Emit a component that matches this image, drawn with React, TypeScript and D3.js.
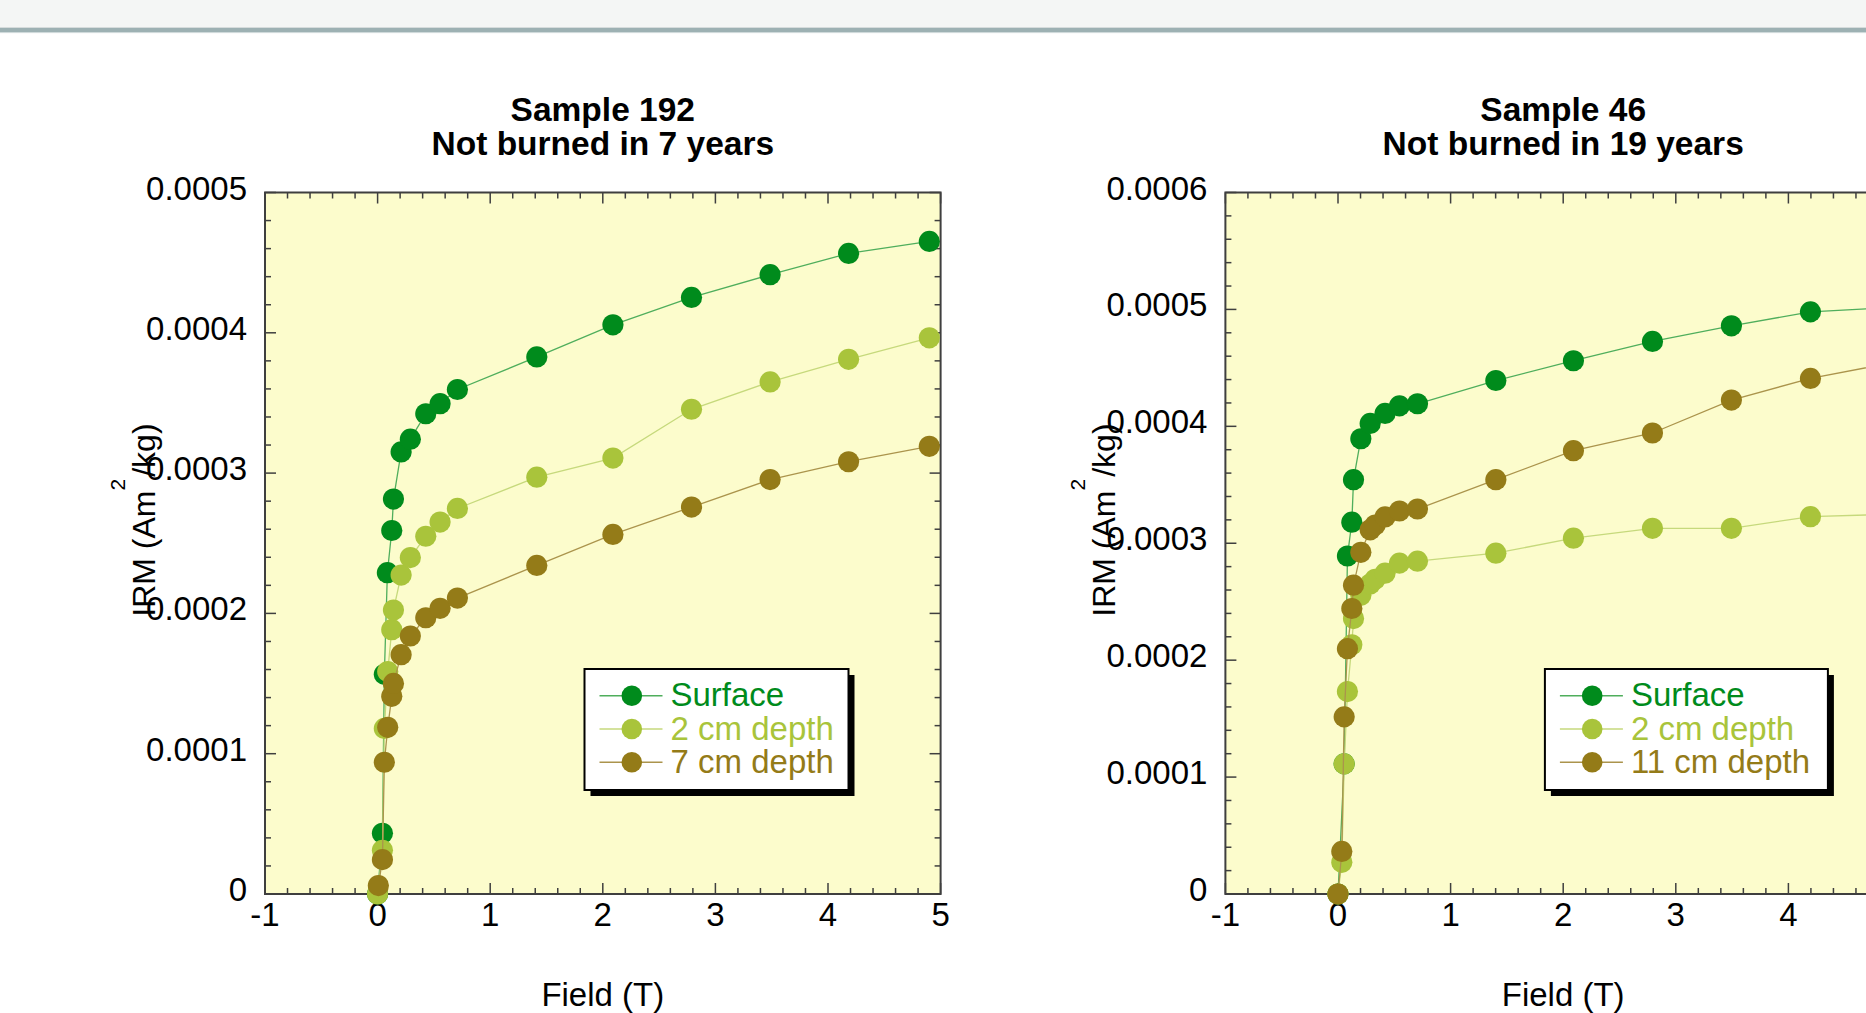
import React, { useEffect } from 'react';
import * as d3 from 'd3';

// ---------- data ----------
const xTickValues = [-1, 0, 1, 2, 3, 4, 5];
const xTickLabels = ['-1', '0', '1', '2', '3', '4', '5'];

// IRM values are in units of 1e-4 Am^2/kg
const yTickValues192 = [0, 1, 2, 3, 4, 5];
const yTickLabels192 = ['0', '0.0001', '0.0002', '0.0003', '0.0004', '0.0005'];
const yTickValues46 = [0, 1, 2, 3, 4, 5, 6];
const yTickLabels46 = ['0', '0.0001', '0.0002', '0.0003', '0.0004', '0.0005', '0.0006'];

const seriesNames192 = ['Surface', '2 cm depth', '7 cm depth'];
const seriesNames46 = ['Surface', '2 cm depth', '11 cm depth'];
const seriesColors = ['#008b1c', '#a9c43b', '#947b18'];
const lineColors = ['#4fae5c', '#c6d97c', '#ab944c'];

// Sample 192
const field192Surface = [0, 0.043, 0.06, 0.087, 0.126, 0.141, 0.209, 0.291, 0.428, 0.555, 0.709, 1.414, 2.09, 2.788, 3.486, 4.183, 4.9];
const irm192Surface = [0, 0.433, 1.566, 2.29, 2.591, 2.815, 3.151, 3.242, 3.423, 3.495, 3.596, 3.828, 4.057, 4.252, 4.414, 4.566, 4.651];
const field192Depth2 = [0, 0.043, 0.06, 0.09, 0.126, 0.141, 0.209, 0.291, 0.428, 0.555, 0.709, 1.414, 2.09, 2.788, 3.486, 4.183, 4.9];
const irm192Depth2 = [0, 0.312, 1.18, 1.586, 1.884, 2.024, 2.273, 2.398, 2.55, 2.651, 2.748, 2.971, 3.107, 3.455, 3.65, 3.811, 3.964];
const field192Depth7 = [0.007, 0.043, 0.06, 0.09, 0.126, 0.141, 0.209, 0.291, 0.428, 0.555, 0.709, 1.414, 2.09, 2.788, 3.486, 4.183, 4.9];
const irm192Depth7 = [0.06, 0.245, 0.939, 1.188, 1.409, 1.501, 1.706, 1.839, 1.969, 2.036, 2.109, 2.342, 2.563, 2.758, 2.954, 3.081, 3.191];

// Sample 46
const field46Surface = [0, 0.055, 0.084, 0.123, 0.138, 0.203, 0.286, 0.418, 0.546, 0.706, 1.402, 2.091, 2.793, 3.494, 4.196, 4.9];
const irm46Surface = [0, 1.113, 2.891, 3.18, 3.544, 3.894, 4.025, 4.11, 4.175, 4.193, 4.392, 4.561, 4.726, 4.86, 4.979, 5.015];
const field46Depth2 = [0, 0.034, 0.055, 0.084, 0.123, 0.138, 0.203, 0.286, 0.33, 0.418, 0.546, 0.706, 1.402, 2.091, 2.793, 3.494, 4.196, 4.9];
const irm46Depth2 = [0, 0.271, 1.113, 1.731, 2.132, 2.356, 2.555, 2.651, 2.692, 2.744, 2.83, 2.847, 2.915, 3.043, 3.128, 3.128, 3.227, 3.248];
const field46Depth11 = [0, 0.034, 0.055, 0.084, 0.123, 0.138, 0.203, 0.286, 0.33, 0.418, 0.546, 0.706, 1.402, 2.091, 2.793, 3.494, 4.196, 4.9];
const irm46Depth11 = [0, 0.364, 1.515, 2.098, 2.442, 2.641, 2.922, 3.115, 3.156, 3.225, 3.276, 3.293, 3.544, 3.792, 3.943, 4.225, 4.41, 4.54];

// ---------- layout ----------
const W = 1866;
const H = 1013;
const PLOT_TOP = 192.5;
const PLOT_BOTTOM = 894;
const PLOT_W = 675.6;
const FONT = "'Liberation Sans', Arial, Helvetica, sans-serif";
const FRAME = '#3f3f3f';
const BG = '#fcfccc';

type Series = { name: string; color: string; lineColor: string; pts: [number, number][] };

const zip = (a: number[], b: number[]): [number, number][] => a.map((v, i) => [v, b[i]]);

const charts = [
  {
    left: 265,
    title: ['Sample 192', 'Not burned in 7 years'],
    yMax: 5,
    yTicks: yTickValues192,
    yLabels: yTickLabels192,
    legendW: 264,
    series: [
      { name: seriesNames192[0], color: seriesColors[0], lineColor: lineColors[0], pts: zip(field192Surface, irm192Surface) },
      { name: seriesNames192[1], color: seriesColors[1], lineColor: lineColors[1], pts: zip(field192Depth2, irm192Depth2) },
      { name: seriesNames192[2], color: seriesColors[2], lineColor: lineColors[2], pts: zip(field192Depth7, irm192Depth7) },
    ] as Series[],
  },
  {
    left: 1225.4,
    title: ['Sample 46', 'Not burned in 19 years'],
    yMax: 6,
    yTicks: yTickValues46,
    yLabels: yTickLabels46,
    legendW: 283,
    series: [
      { name: seriesNames46[0], color: seriesColors[0], lineColor: lineColors[0], pts: zip(field46Surface, irm46Surface) },
      { name: seriesNames46[1], color: seriesColors[1], lineColor: lineColors[1], pts: zip(field46Depth2, irm46Depth2) },
      { name: seriesNames46[2], color: seriesColors[2], lineColor: lineColors[2], pts: zip(field46Depth11, irm46Depth11) },
    ] as Series[],
  },
];

function Chart({ cfg }: { cfg: typeof charts[number] }) {
  const x = d3.scaleLinear().domain([-1, 5]).range([cfg.left, cfg.left + PLOT_W]);
  const y = d3.scaleLinear().domain([0, cfg.yMax]).range([PLOT_BOTTOM, PLOT_TOP]);
  const line = d3.line<[number, number]>().x((d) => x(d[0])).y((d) => y(d[1]));
  const x0 = x(-1), x1 = x(5), y0 = y(0), y1 = y(cfg.yMax);
  const cx = (x0 + x1) / 2;
  const majorLen = 11, minorLen = 6;
  const minorX = d3.range(0, 31).map((i) => -1 + i * 0.2);
  const minorY = d3.range(0, cfg.yMax * 5 + 1).map((i) => i * 0.2);
  const isMajor = (v: number) => Math.abs(v - Math.round(v)) < 1e-6;

  const lx = cfg.left + 319.5;
  const ly = 669;
  const lh = 121;

  return (
    <g>
      {/* titles */}
      <text x={cx} y={121} textAnchor="middle" fontFamily={FONT} fontWeight="bold" fontSize={33.5} fill="#000">{cfg.title[0]}</text>
      <text x={cx} y={154.5} textAnchor="middle" fontFamily={FONT} fontWeight="bold" fontSize={33.5} fill="#000">{cfg.title[1]}</text>

      {/* plot background */}
      <rect x={x0} y={y1} width={x1 - x0} height={y0 - y1} fill={BG} />

      {/* ticks */}
      <g stroke={FRAME} strokeWidth={1.5}>
        {minorX.map((v, i) => {
          const len = isMajor(v) ? majorLen : minorLen;
          const px = x(v);
          return (
            <g key={'xt' + i}>
              <line x1={px} x2={px} y1={y0} y2={y0 - len} />
              <line x1={px} x2={px} y1={y1} y2={y1 + len} />
            </g>
          );
        })}
        {minorY.map((v, i) => {
          const len = isMajor(v) ? majorLen : minorLen;
          const py = y(v);
          return (
            <g key={'yt' + i}>
              <line x1={x0} x2={x0 + len} y1={py} y2={py} />
              <line x1={x1} x2={x1 - len} y1={py} y2={py} />
            </g>
          );
        })}
      </g>
      <rect x={x0} y={y1} width={x1 - x0} height={y0 - y1} fill="none" stroke={FRAME} strokeWidth={2} />

      {/* tick labels (only those inside the window) */}
      {xTickValues.map((v, i) =>
        x(v) + 12 < W ? (
          <text key={'xl' + i} x={x(v)} y={926} textAnchor="middle" fontFamily={FONT} fontSize={33} fill="#000">{xTickLabels[i]}</text>
        ) : null
      )}
      {cfg.yTicks.map((v, i) => (
        <text key={'yl' + i} x={x0 - 18} y={y(v) + 7} textAnchor="end" fontFamily={FONT} fontSize={33} fill="#000">{cfg.yLabels[i]}</text>
      ))}

      {/* axis titles */}
      <text x={cx} y={1006} textAnchor="middle" fontFamily={FONT} fontSize={33} fill="#000">Field (T)</text>
      <text transform={`translate(${x0 - 110},616.7) rotate(-90)`} fontFamily={FONT} fontSize={32} fill="#000">
        IRM (Am<tspan fontSize={21} dy={-30}>2</tspan><tspan dy={30} dx={2}>/kg)</tspan>
      </text>

      {/* data */}
      {cfg.series.map((s, si) => (
        <g key={'s' + si}>
          <path d={line(s.pts) || ''} fill="none" stroke={s.lineColor} strokeWidth={1.3} />
          {s.pts.map((p, pi) => (
            <circle key={pi} cx={x(p[0])} cy={y(p[1])} r={10.6} fill={s.color} />
          ))}
        </g>
      ))}

      {/* legend */}
      <rect x={lx + 6} y={ly + 6} width={cfg.legendW} height={lh} fill="#000" />
      <rect x={lx} y={ly} width={cfg.legendW} height={lh} fill="#fff" stroke="#000" strokeWidth={2} />
      {cfg.series.map((s, i) => {
        const ry = 695.7 + i * 33.3;
        return (
          <g key={'lg' + i}>
            <line x1={lx + 15} x2={lx + 78} y1={ry} y2={ry} stroke={s.lineColor} strokeWidth={1.5} />
            <circle cx={lx + 47.3} cy={ry} r={10.3} fill={s.color} />
            <text x={lx + 86} y={ry + 10.6} fontFamily={FONT} fontSize={33} fill={s.color}>{s.name}</text>
          </g>
        );
      })}
    </g>
  );
}

export default function App() {
  useEffect(() => {
    document.body.style.margin = '0';
    document.body.style.overflow = 'hidden';
  }, []);
  return (
    <svg width={W} height={H} viewBox={`0 0 ${W} ${H}`} style={{ position: 'absolute', left: 0, top: 0, display: 'block', background: '#fff' }}>
      <rect x={0} y={0} width={W} height={H} fill="#fff" />
      <rect x={0} y={0} width={W} height={27.5} fill="#f4f6f5" />
      <rect x={0} y={27} width={W} height={1} fill="#d6dcdc" />
      <rect x={0} y={28} width={W} height={4.3} fill="#9db1b3" />
      <rect x={0} y={32.3} width={W} height={0.8} fill="#c9d5d6" />
      {charts.map((c, i) => (
        <Chart key={i} cfg={c} />
      ))}
    </svg>
  );
}
